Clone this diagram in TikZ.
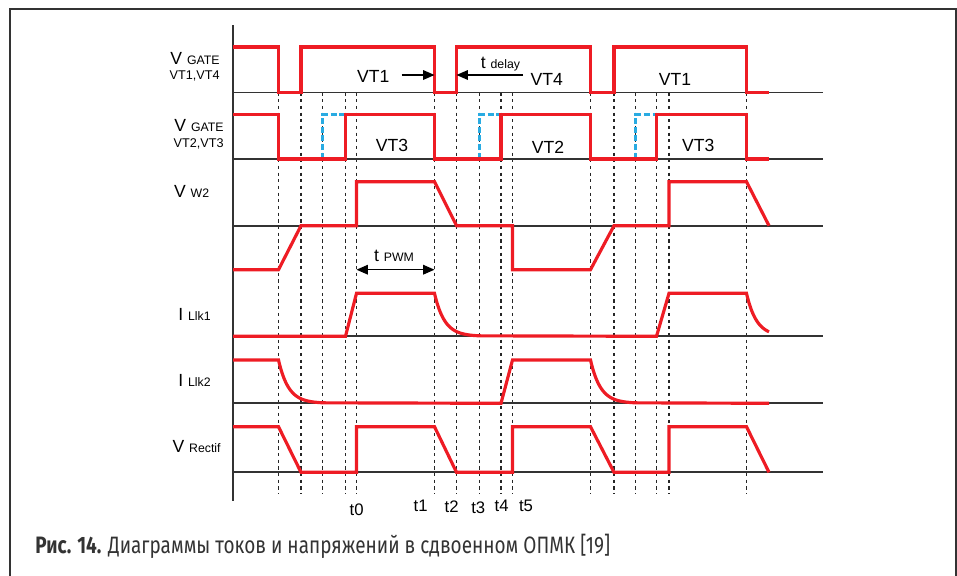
\documentclass[tikz,border=0pt]{standalone}
\usepackage{fontspec}
\setmainfont{Liberation Sans}
\newfontfamily\capfont[FakeStretch=0.80]{Fira Sans}
\usepackage{xcolor}
\usetikzlibrary{arrows.meta}

\definecolor{wavered}{HTML}{EE1C24}
\definecolor{delayblue}{HTML}{29ABE2}
\definecolor{linegray}{HTML}{333333}

\newcommand{\sublbl}[1]{{\fontsize{7}{8}\selectfont #1}}

\begin{document}
\begin{tikzpicture}[x=0.02cm, y=-0.02cm,
		wave/.style={draw=wavered, line width=1.8pt, line join=miter},
		offwave/.style={draw=delayblue, line width=1.7pt, dash pattern=on 3.4pt off 1.6pt},
		baseln/.style={draw=linegray, line width=0.95pt},
		timeln/.style={draw=black!85, line width=1pt, dash pattern=on 1.8pt off 2pt},
		dimarrow/.style={draw=black, line width=0.7pt, -{Triangle[length=6.5pt,width=5.5pt]}},
		siglbl/.style={inner sep=0pt, anchor=base east, font=\fontsize{10}{12}\selectfont},
		keylbl/.style={inner sep=0pt, anchor=base east, font=\fontsize{7.2}{8}\selectfont},
		phaselbl/.style={inner sep=0pt, anchor=base, font=\fontsize{10}{12}\selectfont},
		timelbl/.style={inner sep=0pt, anchor=base, font=\fontsize{9.5}{11}\selectfont}]

		\useasboundingbox (0,0) rectangle (957,575);

		% frame
		\draw[draw=linegray, line width=0.75pt] (10,580) -- (10,9) -- (956,9) -- (956,580);

		% time marks
		\draw[timeln] (278.5,92.5) -- (278.5,493.5);
		\draw[timeln] (301,92.5) -- (301,493.5);
		\draw[timeln] (322.5,92.5) -- (322.5,493.5);
		\draw[timeln] (345.5,92.5) -- (345.5,493.5);
		\draw[timeln] (356.5,92.5) -- (356.5,493.5);
		\draw[timeln] (434.5,92.5) -- (434.5,493.5);
		\draw[timeln] (456.5,92.5) -- (456.5,493.5);
		\draw[timeln] (479.5,92.5) -- (479.5,493.5);
		\draw[timeln] (501,92.5) -- (501,493.5);
		\draw[timeln] (512.5,92.5) -- (512.5,493.5);
		\draw[timeln] (590.5,92.5) -- (590.5,493.5);
		\draw[timeln] (614,92.5) -- (614,493.5);
		\draw[timeln] (635.5,92.5) -- (635.5,493.5);
		\draw[timeln] (656.5,92.5) -- (656.5,493.5);
		\draw[timeln] (669,92.5) -- (669,493.5);
		\draw[timeln] (746.5,92.5) -- (746.5,493.5);

		% axis and zero lines
		\draw[baseln] (233,25) -- (233,501);
		\draw[baseln] (233,92.5) -- (823,92.5);
		\draw[baseln] (233,159) -- (823,159);
		\draw[baseln] (233,225.7) -- (823,225.7);
		\draw[baseln] (233,336.3) -- (823,336.3);
		\draw[baseln] (233,403.3) -- (823,403.3);
		\draw[baseln] (233,472.3) -- (823,472.3);

		% dead time of VT2, VT3
		\draw[offwave] (322.5,159) -- (322.5,114.5) -- (345.5,114.5);
		\draw[offwave] (479.5,159) -- (479.5,114.5) -- (501,114.5);
		\draw[offwave] (635.5,159) -- (635.5,114.5) -- (656.5,114.5);

		% V gate VT1, VT4
		\draw[wave] (233,47) -- (278.5,47) -- (278.5,92.5) -- (301,92.5) -- (301,47) -- (434.5,47) -- (434.5,92.5) -- (456.5,92.5) -- (456.5,47) -- (590.5,47) -- (590.5,92.5) -- (614,92.5) -- (614,47) -- (746.5,47) -- (746.5,92.5) -- (769,92.5);
		% V gate VT2, VT3
		\draw[wave] (233,114.5) -- (278.5,114.5) -- (278.5,159) -- (345.5,159) -- (345.5,114.5) -- (434.5,114.5) -- (434.5,159) -- (501,159) -- (501,114.5) -- (590.5,114.5) -- (590.5,159) -- (656.5,159) -- (656.5,114.5) -- (746.5,114.5) -- (746.5,159) -- (769,159);
		% V W2
		\draw[wave] (233,269.7) -- (278.5,269.7) -- (301,225.7) -- (356.5,225.7) -- (356.5,181.7) -- (434.5,181.7) -- (456.5,225.7) -- (512.5,225.7) -- (512.5,269.7) -- (590.5,269.7) -- (614,225.7) -- (669,225.7) -- (669,181.7) -- (746.5,181.7) -- (769,225.7);
		% I Llk1
		\draw[wave] (233,336.3) -- (345.5,336.3) -- (356.5,293.3) -- (434.5,293.3)
			-- plot[domain=0:45, samples=40] ({434.5+\x},{336.3-43*exp(-\x/10)})
			-- (656.5,336.3) -- (669,293.3) -- (746.5,293.3)
			-- plot[domain=0:22.5, samples=20] ({746.5+\x},{336.3-43*exp(-\x/10)});
		% I Llk2
		\draw[wave] (233,360) -- (278.5,360)
			-- plot[domain=0:45, samples=40] ({278.5+\x},{403.3-43.3*exp(-\x/10)})
			-- (501,403.3) -- (512.5,360) -- (590.5,360)
			-- plot[domain=0:45, samples=40] ({590.5+\x},{403.3-43.3*exp(-\x/10)})
			-- (769,403.3);
		% V rectif
		\draw[wave] (233,426.7) -- (278.5,426.7) -- (301,472.3) -- (356.5,472.3) -- (356.5,426.7) -- (434.5,426.7) -- (456.5,472.3) -- (512.5,472.3) -- (512.5,426.7) -- (590.5,426.7) -- (614,472.3) -- (669,472.3) -- (669,426.7) -- (746.5,426.7) -- (769,472.3);

		% t delay and t PWM
		\coordinate (dly1) at (401.7,75);
		\coordinate (dly2) at (434.5,75);
		\coordinate (dly3) at (523,75);
		\coordinate (dly4) at (456.5,75);
		\coordinate (pwm1) at (356.5,269.7);
		\coordinate (pwm2) at (434.5,269.7);
		\draw[dimarrow] (dly1) -- (dly2);
		\draw[dimarrow] (dly3) -- (dly4);
		\draw[dimarrow, {Triangle[length=6.5pt,width=5.5pt]}-{Triangle[length=6.5pt,width=5.5pt]}] (pwm1) -- (pwm2);
		\node[inner sep=0pt, anchor=base west, font=\fontsize{10}{12}\selectfont] (tdelay) at (480.5,68) {t \sublbl{delay}};
		\node[phaselbl] (tpwm) at (394,261.7) {t \sublbl{PWM}};

		% signal names
		\node[siglbl] (vg14) at (220,64) {V \sublbl{GATE}};
		\node[keylbl] (vg14k) at (220,79.3) {VT1,VT4};
		\node[siglbl] (vg23) at (224,131) {V \sublbl{GATE}};
		\node[keylbl] (vg23k) at (224,147.7) {VT2,VT3};
		\node[siglbl] (vw2) at (209.5,197.5) {V \sublbl{W2}};
		\node[siglbl] (ilk1) at (211,320) {I \sublbl{Llk1}};
		\node[siglbl] (ilk2) at (211,386) {I \sublbl{Llk2}};
		\node[siglbl] (vrect) at (221,452.7) {V \sublbl{Rectif}};

		% active switches
		\node[phaselbl] (on1) at (373.3,82.7) {VT1};
		\node[phaselbl] (on4) at (546.7,85) {VT4};
		\node[phaselbl] (on1b) at (675,85) {VT1};
		\node[phaselbl] (on3) at (392,151.7) {VT3};
		\node[phaselbl] (on2) at (548,153.3) {VT2};
		\node[phaselbl] (on3b) at (698.3,151.7) {VT3};

		% instants
		\node[timelbl] (t0) at (356.7,515) {t0};
		\node[timelbl] (t1) at (420.7,511.7) {t1};
		\node[timelbl] (t2) at (451.7,512.7) {t2};
		\node[timelbl] (t3) at (478.3,513.3) {t3};
		\node[timelbl] (t4) at (501.7,511.7) {t4};
		\node[timelbl] (t5) at (526,511) {t5};

		% caption
		\node[inner sep=0pt, anchor=base west, text=linegray, font=\capfont\fontsize{13.5}{16}\selectfont] (cap) at (35,553.3) {\textbf{Рис. 14.} Диаграммы токов и напряжений в сдвоенном ОПМК [19]};
\end{tikzpicture}
\end{document}
